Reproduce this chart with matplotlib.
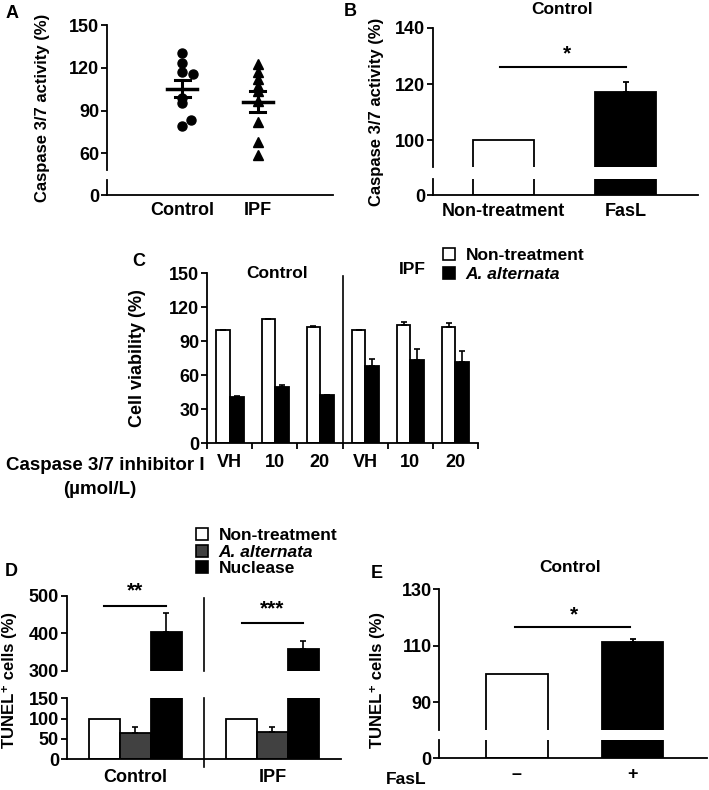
import matplotlib
matplotlib.use("Agg")
import matplotlib.pyplot as plt
from matplotlib.patches import Patch

plt.rcParams["font.family"] = ["Liberation Sans", "DejaVu Sans"]
plt.rcParams["font.weight"] = "bold"
plt.rcParams["axes.labelweight"] = "bold"
plt.rcParams["font.size"] = 12
plt.rcParams["xtick.labelsize"] = 13
plt.rcParams["ytick.labelsize"] = 13
plt.rcParams["axes.linewidth"] = 1.3
plt.rcParams["xtick.major.width"] = 1.3
plt.rcParams["ytick.major.width"] = 1.3
plt.rcParams["xtick.major.size"] = 4
plt.rcParams["ytick.major.size"] = 4
plt.rcParams["ytick.major.pad"] = 1.5

W, H = 709, 790

# Panel A - caspase 3/7 activity per subject
a_groups = ["Control", "IPF"]
a_control = [130.5, 123.7, 117, 116, 98.5, 95.4, 83.2, 79.2]
a_control_jitter = [0, 0, 0, 0.14, 0, 0, 0.12, 0]
a_ipf = [123, 117, 112, 107, 104, 97, 82, 68, 59]
a_mean = [105.5, 96.2]
a_sem = [5.8, 7.5]

# Panel B - FasL
b_labels = ["Non-treatment", "FasL"]
b_values = [100, 117]
b_err = [0, 3.8]
b_sig = 126.2

# Panel C - cell viability with caspase inhibitor
c_groups = ["Control", "IPF"]
c_doses = ["VH", "10", "20", "VH", "10", "20"]
c_nontreat = [100, 109, 102.5, 100, 104, 102.5]
c_nontreat_err = [0, 0.5, 0.5, 0, 2.5, 3.5]
c_alt = [41, 49, 42, 68, 73.3, 71.5]
c_alt_err = [0.5, 2.5, 0.5, 6, 10, 9.5]

# Panel D - TUNEL
d_groups = ["Control", "IPF"]
d_nontreat = [100, 100]
d_alt = [64, 68]
d_alt_err = [16, 10.5]
d_nuclease = [402.7, 357]
d_nuclease_err = [51, 22.5]
d_stars = ["**", "***"]
d_sig = [473, 427]

# Panel E - TUNEL with FasL
e_labels = ["\u2013", "+"]
e_values = [100, 111.2]
e_err = [0, 1.2]
e_sig = 116.5

fig = plt.figure(figsize=(W / 100, H / 100), dpi=100)


def px_axes(x0, y0, x1, y1):
    return fig.add_axes([x0 / W, 1 - y1 / H, (x1 - x0) / W, (y1 - y0) / H])


def ftext(x, y, s, **kw):
    return fig.text(x / W, 1 - y / H, s, **kw)


def style(ax, bottom=True):
    ax.spines["top"].set_visible(False)
    ax.spines["right"].set_visible(False)
    ax.spines["bottom"].set_visible(bottom)
    if not bottom:
        ax.tick_params(axis="x", bottom=False, labelbottom=False)
    ax.patch.set_alpha(0)


# ---------- A ----------
axa = px_axes(107, 25, 333, 170)
axa2 = px_axes(107, 180, 333, 195)
for ax in (axa, axa2):
    ax.set_xlim(0, 3)
axa.set_ylim(48.4, 150)
axa.set_yticks([60, 90, 120, 150])
axa2.set_ylim(0, 10)
axa2.set_yticks([0])
style(axa, bottom=False)
style(axa2)
axa2.set_xticks([1, 2])
axa2.set_xticklabels(a_groups)
axa2.tick_params(axis="x", length=0, pad=5)
axa.plot([1 + j for j in a_control_jitter], a_control, "o", color="black", ms=6.5)
axa.plot([2] * len(a_ipf), a_ipf, "^", color="black", ms=6.5)
for i, (m, s) in enumerate(zip(a_mean, a_sem)):
    xc = i + 1
    axa.plot([xc - 0.2, xc + 0.2], [m, m], color="black", lw=2.5)
    axa.plot([xc, xc], [m - s, m + s], color="black", lw=2.2)
    for v in (m - s, m + s):
        axa.plot([xc - 0.1, xc + 0.1], [v, v], color="black", lw=2.2)
ftext(12, 13, "A", fontsize=13, ha="center", va="center")
ftext(43, 108, "Caspase 3/7 activity (%)", rotation=90, ha="center", va="center")

# ---------- B ----------
axb = px_axes(432.7, 28, 698, 167)
axb2 = px_axes(432.7, 179, 698, 195)
for ax in (axb, axb2):
    ax.set_xlim(0.42, 2.59)
    ax.bar([1, 2], b_values, width=0.5, color=["white", "black"],
           edgecolor="black", linewidth=1.3)
axb.set_ylim(90.4, 140)
axb.set_yticks([100, 120, 140])
axb2.set_ylim(0, 10)
axb2.set_yticks([0])
style(axb, bottom=False)
style(axb2)
axb2.set_xticks([1, 2])
axb2.set_xticklabels(b_labels)
axb2.tick_params(axis="x", length=0, pad=5.5)
axb.errorbar([2], [b_values[1]], yerr=[[0], [b_err[1]]], fmt="none",
             ecolor="black", elinewidth=1.3, capsize=2.5, capthick=1.3)
axb.plot([0.97, 2.0], [b_sig, b_sig], color="black", lw=1.5)
axb.text(1.52, b_sig + 1.2, "*", ha="center", va="bottom", fontsize=15)
ftext(350, 12, "B", fontsize=13, ha="center", va="center")
ftext(562, 9, "Control", ha="center", va="center", fontsize=12.5)
ftext(377, 112, "Caspase 3/7 activity (%)", rotation=90, ha="center", va="center")

# ---------- C ----------
axc = px_axes(207, 273, 478, 443)
style(axc)
centers = [i + 0.5 for i in range(len(c_doses))]
axc.bar([c - 0.29 for c in centers], c_nontreat, width=0.29, align="edge",
        color="white", edgecolor="black", linewidth=1.3, label="Non-treatment")
axc.bar(centers, c_alt, width=0.31, align="edge",
        color="black", edgecolor="black", linewidth=1.3, label="A. alternata")
axc.errorbar([c - 0.145 for c in centers], c_nontreat,
             yerr=[[0] * 6, c_nontreat_err], fmt="none", ecolor="black",
             elinewidth=1.2, capsize=2, capthick=1.2)
axc.errorbar([c + 0.155 for c in centers], c_alt,
             yerr=[[0] * 6, c_alt_err], fmt="none", ecolor="black",
             elinewidth=1.2, capsize=2, capthick=1.2)
axc.set_xlim(0, 6)
axc.set_ylim(0, 150)
axc.set_yticks(range(0, 151, 30))
axc.set_xticks(range(7))
axc.set_xticklabels([])
axc.set_xticks(centers, minor=True)
axc.set_xticklabels(c_doses, minor=True)
axc.tick_params(axis="x", which="minor", length=0, pad=8)
axc.plot([3, 3], [0, 0.98], color="black", lw=1.2,
         transform=axc.get_xaxis_transform(), clip_on=False)
axc.text(1.55, 150, c_groups[0], ha="center", va="center", fontsize=12.5)
axc.text(4.55, 153, c_groups[1], ha="center", va="center", fontsize=12.5)
axc.legend(handles=[Patch(facecolor="white", edgecolor="black", lw=1.2, label="Non-treatment"),
                    Patch(facecolor="black", edgecolor="black", lw=1.2, label="A. alternata")],
           loc="upper left", bbox_to_anchor=(443 / W, 1 - 248 / H),
           bbox_transform=fig.transFigure, frameon=False, fontsize=12.5,
           handlelength=0.7, handleheight=0.7, handletextpad=0.6,
           labelspacing=0.2, borderpad=0, borderaxespad=0)
axc.get_legend().get_texts()[1].set_style("italic")
ftext(139, 262, "C", fontsize=13, ha="center", va="center")
ftext(138, 358, "Cell viability (%)", rotation=90, ha="center", va="center", fontsize=13)
ftext(205, 465, "Caspase 3/7 inhibitor I", ha="right", va="center", fontsize=13.5)
ftext(100, 490, "(\u00b5mol/L)", ha="center", va="center", fontsize=13.5)

# ---------- D ----------
axd = px_axes(66.7, 596, 341, 670.7)
axd2 = px_axes(66.7, 698.3, 341, 759.3)
dc = [0.5, 1.5]
bw = 0.225
for ax in (axd, axd2):
    ax.set_xlim(0, 2)
    ax.bar([c - 1.5 * bw for c in dc], d_nontreat, width=bw, align="edge",
           color="white", edgecolor="black", linewidth=1.3)
    ax.bar([c - 0.5 * bw for c in dc], d_alt, width=bw, align="edge",
           color="#414141", edgecolor="black", linewidth=1.3)
    ax.bar([c + 0.5 * bw for c in dc], d_nuclease, width=bw, align="edge",
           color="black", edgecolor="black", linewidth=1.3)
axd2.errorbar(dc, d_alt, yerr=[[0, 0], d_alt_err], fmt="none", ecolor="black",
              elinewidth=1.2, capsize=2.5, capthick=1.2)
axd.errorbar([c + bw for c in dc], d_nuclease, yerr=[[0, 0], d_nuclease_err],
             fmt="none", ecolor="black", elinewidth=1.2, capsize=2.5, capthick=1.2)
axd.set_ylim(300, 500)
axd.set_yticks([300, 400, 500])
axd2.set_ylim(0, 150)
axd2.set_yticks([0, 50, 100, 150])
style(axd, bottom=False)
style(axd2)
axd2.set_xticks(dc)
axd2.set_xticklabels(d_groups)
axd2.tick_params(axis="x", length=0, pad=7)
axd.plot([1, 1], [0, 0.97], color="black", lw=1.2,
         transform=axd.get_xaxis_transform(), clip_on=False)
axd2.plot([1, 1], [-0.13, 1], color="black", lw=1.2,
          transform=axd2.get_xaxis_transform(), clip_on=False)
for c, st, s in zip(dc, d_stars, d_sig):
    axd.plot([c - bw, c + bw], [s, s], color="black", lw=1.5, clip_on=False)
    axd.text(c, s + 14, st, ha="center", va="bottom", fontsize=15, clip_on=False)
axd.legend(handles=[Patch(facecolor="white", edgecolor="black", lw=1.2, label="Non-treatment"),
                    Patch(facecolor="#414141", edgecolor="black", lw=1.2, label="A. alternata"),
                    Patch(facecolor="black", edgecolor="black", lw=1.2, label="Nuclease")],
           loc="upper left", bbox_to_anchor=(196 / W, 1 - 528 / H),
           bbox_transform=fig.transFigure, frameon=False, fontsize=12.5,
           handlelength=0.7, handleheight=0.7, handletextpad=0.6,
           labelspacing=0.08, borderpad=0, borderaxespad=0)
axd.get_legend().get_texts()[1].set_style("italic")
ftext(11, 572, "D", fontsize=13, ha="center", va="center")
ftext(10, 680, "TUNEL\u207a cells (%)", rotation=90, ha="center", va="center")

# ---------- E ----------
axe = px_axes(439.3, 589.3, 706.7, 730)
axe2 = px_axes(439.3, 740, 706.7, 758.3)
for ax in (axe, axe2):
    ax.set_xlim(0.33, 2.64)
    ax.bar([1, 2], e_values, width=0.53, color=["white", "black"],
           edgecolor="black", linewidth=1.3)
axe.errorbar([2], [e_values[1]], yerr=[[0], [e_err[1]]], fmt="none",
             ecolor="black", elinewidth=1.3, capsize=2.5, capthick=1.3)
axe.set_ylim(80.2, 130)
axe.set_yticks([90, 110, 130])
axe2.set_ylim(0, 10)
axe2.set_yticks([0])
style(axe, bottom=False)
style(axe2)
axe2.set_xticks([1, 2])
axe2.set_xticklabels(e_labels)
axe2.tick_params(axis="x", length=0, pad=5.5)
axe.plot([0.98, 1.98], [e_sig, e_sig], color="black", lw=1.5)
axe.text(1.49, e_sig + 1.0, "*", ha="center", va="bottom", fontsize=15)
ftext(377, 573, "E", fontsize=13, ha="center", va="center")
ftext(570, 568, "Control", ha="center", va="center", fontsize=12.5)
ftext(378, 680, "TUNEL\u207a cells (%)", rotation=90, ha="center", va="center")
ftext(406, 779, "FasL", ha="center", va="center", fontsize=12.5)

fig.savefig("out.png", dpi=100)
